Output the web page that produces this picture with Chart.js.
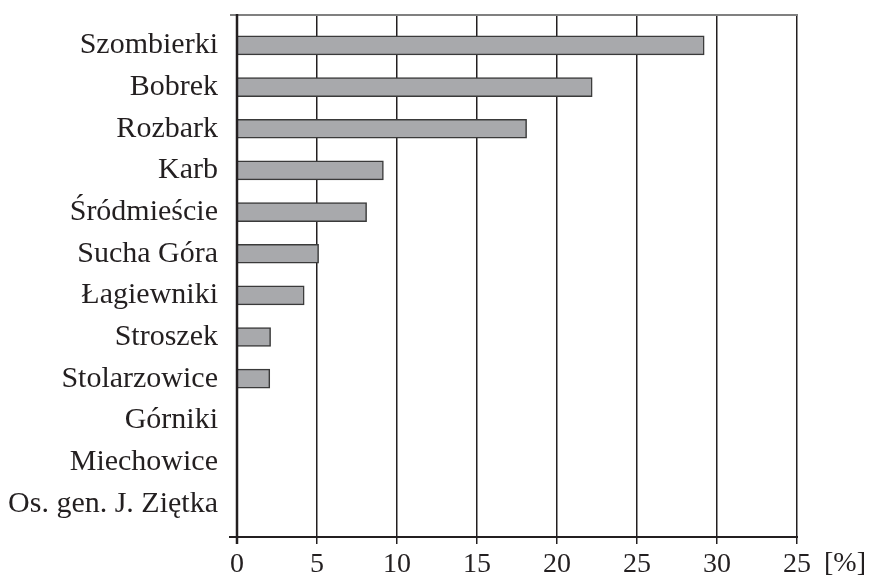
<!DOCTYPE html>
<html>
<head>
<meta charset="utf-8">
<script src="https://cdn.jsdelivr.net/npm/chart.js@4.4.0/dist/chart.umd.min.js"></script>
<style>
html,body{margin:0;padding:0;background:#fff;}
#wrap{width:872px;height:577px;position:relative;}
</style>
</head>
<body>
<div id="wrap"><canvas id="c" width="872" height="577"></canvas></div>
<script>
const categories = ["Szombierki","Bobrek","Rozbark","Karb","Śródmieście","Sucha Góra","Łagiewniki","Stroszek","Stolarzowice","Górniki","Miechowice","Os. gen. J. Ziętka"];
const values = [29.2, 22.2, 18.1, 9.15, 8.1, 5.1, 4.2, 2.1, 2.05, 0, 0, 0];
const xTickValues = [0, 5, 10, 15, 20, 25, 30, 35];
const xTickLabels = ["0","5","10","15","20","25","30","25"];
const unitLabel = "[%]";

const FONT = "'Liberation Serif', 'DejaVu Serif', serif";

const framePlugin = {
  id: 'frame',
  afterDatasetsDraw(chart) {
    const ctx = chart.ctx;
    const a = chart.chartArea;
    ctx.save();
    ctx.strokeStyle = '#808080';
    ctx.lineWidth = 2;
    ctx.beginPath();
    ctx.moveTo(a.left - 7, a.top);
    ctx.lineTo(a.right + 1, a.top);
    ctx.stroke();
    ctx.strokeStyle = '#231f20';
    ctx.lineWidth = 2;
    ctx.beginPath();
    ctx.moveTo(a.left - 8, a.bottom);
    ctx.lineTo(a.right + 1, a.bottom);
    ctx.stroke();
    ctx.lineWidth = 2.5;
    ctx.beginPath();
    ctx.moveTo(a.left, a.top - 1);
    ctx.lineTo(a.left, a.bottom + 7);
    ctx.stroke();
    const xs = chart.scales.x;
    ctx.fillStyle = '#231f20';
    ctx.font = "28px " + FONT;
    ctx.textAlign = 'left';
    ctx.textBaseline = 'middle';
    ctx.fillText(unitLabel, xs.getPixelForValue(35) + 27, a.bottom + 27);
    ctx.restore();
  }
};

new Chart(document.getElementById('c'), {
  type: 'bar',
  data: {
    datasets: [{
      data: values.map((v, i) => ({x: v, y: i})),
      backgroundColor: '#a8a9ac',
      borderColor: '#3a3a3a',
      borderWidth: 1.5,
      barThickness: 19
    }]
  },
  options: {
    indexAxis: 'y',
    responsive: false,
    animation: false,
    layout: {padding: {left: 0, right: 75, top: 15, bottom: 0}},
    plugins: {legend: {display: false}, tooltip: {enabled: false}},
    scales: {
      x: {
        type: 'linear',
        min: 0, max: 35,
        afterBuildTicks(scale) { scale.ticks = xTickValues.map(v => ({value: v})); },
        afterFit(scale) { scale.height = 40; },
        ticks: {
          callback: (v) => xTickLabels[xTickValues.indexOf(v)],
          font: {family: FONT, size: 28},
          color: '#231f20',
          padding: 4,
          maxRotation: 0,
          autoSkip: false
        },
        grid: {color: '#231f20', lineWidth: 1.5, tickLength: 7, drawOnChartArea: true},
        border: {display: false}
      },
      y: {
        type: 'linear',
        reverse: true,
        offset: false,
        min: -0.73, max: 11.8,
        afterBuildTicks(scale) { scale.ticks = categories.map((_, i) => ({value: i})); },
        afterFit(scale) { scale.width = 237; scale.paddingTop = 0; scale.paddingBottom = 0; },
        ticks: {
          callback: (v) => categories[v],
          font: {family: FONT, size: 30},
          color: '#231f20',
          padding: 11,
          autoSkip: false
        },
        grid: {display: false, offset: false},
        border: {display: false}
      }
    }
  },
  plugins: [framePlugin]
});
</script>
</body>
</html>
